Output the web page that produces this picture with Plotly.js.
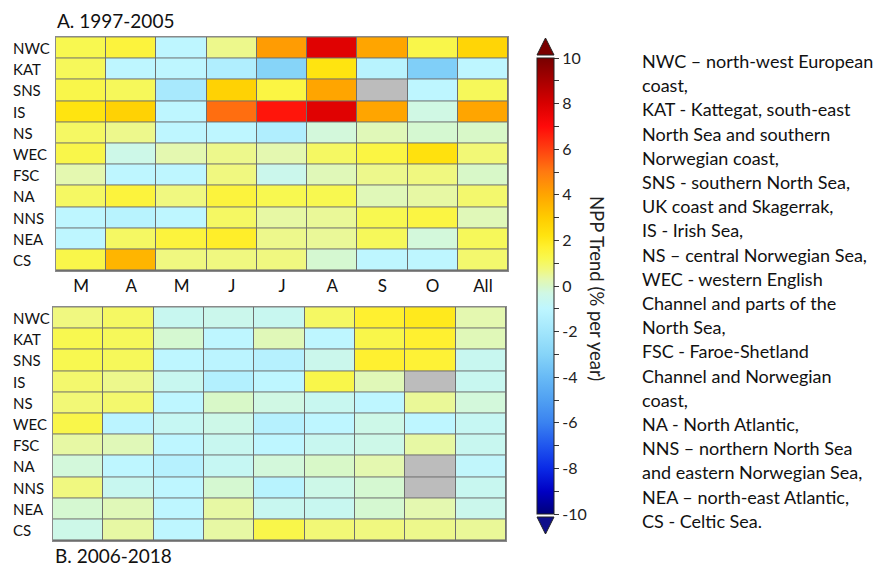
<!DOCTYPE html>
<html>
<head>
<meta charset="utf-8">
<script src="https://cdn.plot.ly/plotly-3.0.1.min.js"></script>
<style>html,body{margin:0;padding:0;background:#fff;}#chart{width:879px;height:570px;}</style>
</head>
<body>
<div id="chart"></div>
<script>
// ---- data ----
var months = ["M", "A", "M ", "J", "J ", "A ", "S", "O", "All"];
var monthLabels = ["M", "A", "M", "J", "J", "A", "S", "O", "All"];
var regions = ["NWC", "KAT", "SNS", "IS", "NS", "WEC", "FSC", "NA", "NNS", "NEA", "CS"];

// A. 1997-2005 (NPP trend, % per year)
var trendA = [
  [1.2, 1.5, -1.0, 0.6, 4.2, 7.8, 4.0, 1.3, 2.7],
  [1.1, -1.0, -1.0, -1.5, -3.0, 2.2, -1.2, -3.2, -1.0],
  [1.3, 1.1, -1.8, 2.8, 1.4, 4.0, null, -1.0, 1.1],
  [2.2, 2.8, -1.0, 5.2, 6.8, 7.8, 4.0, -0.3, 4.0],
  [1.0, 0.6, -1.0, -1.0, -1.5, -0.2, 0.2, -0.1, 0.0],
  [1.3, -0.4, 0.3, 0.6, 0.3, 1.0, 1.4, 2.3, 0.8],
  [0.3, -1.0, -1.0, 0.7, -0.5, 0.2, 0.6, 0.7, 0.0],
  [1.0, 1.5, 0.7, 1.5, 1.2, 1.2, 0.2, 0.4, 0.9],
  [-1.0, -1.2, -1.0, 1.0, 0.4, 0.5, 1.2, 1.4, 0.2],
  [-1.0, 1.0, 1.5, 1.8, 0.6, 0.5, 1.1, -0.2, 1.1],
  [1.3, 3.6, 0.7, 0.7, 0.7, -0.1, -1.0, -1.0, 0.9]
];

// B. 2006-2018
var trendB = [
  [0.7, 1.0, -0.6, -0.5, -0.6, 1.0, 1.7, 2.0, 0.3],
  [1.2, 1.1, -0.1, -1.0, 0.2, -1.0, 1.3, 1.7, 0.2],
  [1.2, 1.1, -1.0, -1.1, -1.3, -0.5, 1.7, 1.6, -0.6],
  [0.9, 0.6, -0.6, -1.4, -1.0, 1.3, 0.2, null, -0.6],
  [0.8, 0.9, -1.0, 0.0, -0.3, -0.6, -1.0, 0.5, -0.2],
  [1.3, -1.1, -0.7, -0.4, -1.3, -1.0, -0.4, -1.0, -0.7],
  [0.4, 0.2, -1.0, -0.6, -1.0, -0.6, -0.4, 0.4, -0.6],
  [-0.2, -1.0, -1.3, -0.7, -0.2, 0.0, 0.3, null, -0.9],
  [0.7, -0.6, -1.0, -0.1, -1.2, -0.4, -0.1, null, -0.6],
  [-0.1, 0.2, -1.0, 0.4, -0.6, -0.6, -0.1, 0.3, -0.5],
  [-0.4, 0.4, -1.0, 0.4, 1.3, 0.8, 0.7, 0.6, 0.5]
];

var cbTickVals = [-10, -9, -8, -7, -6, -5, -4, -3, -2, -1, 0, 1, 2, 3, 4, 5, 6, 7, 8, 9, 10];
var cbTickText = ["-10", "", "-8", "", "-6", "", "-4", "", "-2", "", "0", "", "2", "", "4", "", "6", "", "8", "", "10"];

var legendLines = [
  "NWC \u2013 north-west European", "coast,",
  "KAT - Kattegat, south-east", "North Sea and southern", "Norwegian coast,",
  "SNS - southern North Sea,", "UK coast and Skagerrak,",
  "IS - Irish Sea,",
  "NS \u2013 central Norwegian Sea,",
  "WEC - western English", "Channel and parts of the", "North Sea,",
  "FSC - Faroe-Shetland", "Channel and Norwegian", "coast,",
  "NA - North Atlantic,",
  "NNS \u2013 northern North Sea", "and eastern Norwegian Sea,",
  "NEA \u2013 north-east Atlantic,",
  "CS - Celtic Sea."
];

// ---- style ----
var FONT = "Lato, 'Open Sans', sans-serif";
var zmin = -10, zmax = 10;
function s(v) { return (v - zmin) / (zmax - zmin); }
var colorscale = [
  [s(-10), "#00007a"], [s(-9), "#0000c4"], [s(-8), "#0a2ae6"], [s(-7), "#2056ee"],
  [s(-6), "#3a82f0"], [s(-5), "#50a0f2"], [s(-4), "#68baf6"], [s(-3), "#86d4f8"],
  [s(-2), "#a2e6fc"], [s(-1), "#bef6ff"], [s(-0.3), "#d0f8e4"], [s(0), "#d8f8c8"],
  [s(0.3), "#e4f8b0"], [s(0.7), "#f0f880"], [s(1.2), "#f8f850"], [s(1.7), "#fff030"],
  [s(2.2), "#ffe410"], [s(3), "#ffcc00"], [s(4), "#ffa500"], [s(5), "#ff7a10"],
  [s(6), "#ff4010"], [s(7), "#ff0a0a"], [s(8), "#d80000"], [s(9), "#a80000"],
  [s(10), "#780000"]
];

function mask(z) { return z.map(function (r) { return r.map(function (v) { return v === null ? 1 : null; }); }); }

var W = 879, H = 570;
function px(x) { return x / W; }
function py(y) { return 1 - y / H; }

var cbCenter = 286, cbLen = 456;
var traces = [
  { type: "heatmap", x: months, y: regions, z: mask(trendA), xaxis: "x", yaxis: "y",
    colorscale: [[0, "#bcbcbc"], [1, "#bcbcbc"]], showscale: false, xgap: 1, ygap: 1, hoverinfo: "skip" },
  { type: "heatmap", x: months, y: regions, z: trendA, xaxis: "x", yaxis: "y",
    colorscale: colorscale, zmin: zmin, zmax: zmax, xgap: 1, ygap: 1,
    colorbar: {
      thickness: 17, thicknessmode: "pixels", len: cbLen, lenmode: "pixels",
      x: px(537), xanchor: "left", y: py(cbCenter), yanchor: "middle",
      xpad: 0, ypad: 0, outlinewidth: 1, outlinecolor: "#222",
      tickmode: "array", tickvals: cbTickVals, ticktext: cbTickText,
      ticks: "outside", ticklen: 5, tickcolor: "#333",
      tickfont: { family: FONT, size: 16, color: "#222" }
    } },
  { type: "heatmap", x: months, y: regions, z: mask(trendB), xaxis: "x2", yaxis: "y2",
    colorscale: [[0, "#bcbcbc"], [1, "#bcbcbc"]], showscale: false, xgap: 1, ygap: 1, hoverinfo: "skip" },
  { type: "heatmap", x: months, y: regions, z: trendB, xaxis: "x2", yaxis: "y2",
    colorscale: colorscale, zmin: zmin, zmax: zmax, xgap: 1, ygap: 1, showscale: false }
];

var annotations = [];
regions.forEach(function (r) {
  annotations.push({ xref: "paper", yref: "y", x: px(11), y: r, xanchor: "left", yanchor: "middle",
    text: r, showarrow: false, font: { family: FONT, size: 15, color: "#111" } });
  annotations.push({ xref: "paper", yref: "y2", x: px(11), y: r, xanchor: "left", yanchor: "middle",
    text: r, showarrow: false, font: { family: FONT, size: 15, color: "#111" } });
});
annotations.push({ xref: "paper", yref: "paper", x: px(55), y: py(20), xanchor: "left", yanchor: "middle",
  text: "A. 1997-2005", showarrow: false, font: { family: FONT, size: 19, color: "#111" } });
annotations.push({ xref: "paper", yref: "paper", x: px(53), y: py(555), xanchor: "left", yanchor: "middle",
  text: "B. 2006-2018", showarrow: false, font: { family: FONT, size: 19, color: "#111" } });
annotations.push({ xref: "paper", yref: "paper", x: px(597), y: py(288), xanchor: "center", yanchor: "middle",
  textangle: 90, text: "NPP Trend (% per year)", showarrow: false, font: { family: FONT, size: 18.5, color: "#222" } });
legendLines.forEach(function (t, i) {
  annotations.push({ xref: "paper", yref: "paper", x: px(640), y: py(61 + i * 24.2), xanchor: "left", yanchor: "middle",
    align: "left", text: t, showarrow: false, font: { family: FONT, size: 18, color: "#111" } });
});

var cbTop = cbCenter - cbLen / 2, cbBot = cbCenter + cbLen / 2;
var shapes = [
  { type: "path", xref: "paper", yref: "paper",
    path: "M " + px(537) + "," + py(cbTop - 3) + " L " + px(554) + "," + py(cbTop - 3) + " L " + px(545.5) + "," + py(cbTop - 20) + " Z",
    fillcolor: "#7a0000", line: { color: "#222", width: 1 } },
  { type: "path", xref: "paper", yref: "paper",
    path: "M " + px(537) + "," + py(cbBot + 3) + " L " + px(554) + "," + py(cbBot + 3) + " L " + px(545.5) + "," + py(cbBot + 20) + " Z",
    fillcolor: "#10108a", line: { color: "#222", width: 1 } }
];

var axBase = { showgrid: false, zeroline: false, showline: true, mirror: true, linecolor: "#8a8a8a", linewidth: 1, ticks: "", fixedrange: true };
var layout = {
  width: W, height: H, margin: { l: 0, r: 0, t: 0, b: 0 },
  paper_bgcolor: "#ffffff", plot_bgcolor: "#6e6e6e",
  font: { family: FONT, color: "#111" },
  xaxis: Object.assign({}, axBase, { domain: [px(56), px(508)], anchor: "y", type: "category",
    ticktext: monthLabels, tickvals: months, tickmode: "array",
    tickfont: { family: FONT, size: 17, color: "#111" }, side: "bottom" }),
  yaxis: Object.assign({}, axBase, { domain: [py(271), py(37)], anchor: "x", autorange: "reversed", showticklabels: false, type: "category" }),
  xaxis2: Object.assign({}, axBase, { domain: [px(53), px(506)], anchor: "y2", showticklabels: false, type: "category" }),
  yaxis2: Object.assign({}, axBase, { domain: [py(541), py(307)], anchor: "x2", autorange: "reversed", showticklabels: false, type: "category" }),
  annotations: annotations,
  shapes: shapes
};

Plotly.newPlot("chart", traces, layout, { displayModeBar: false, staticPlot: true });
</script>
</body>
</html>
